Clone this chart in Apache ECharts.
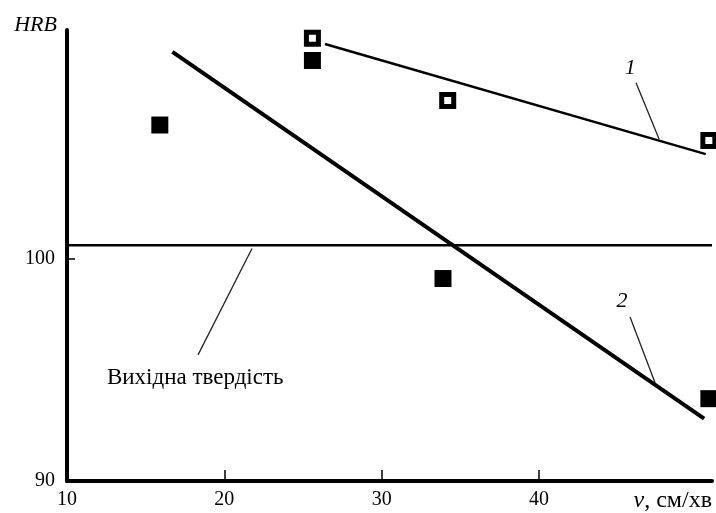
<!DOCTYPE html>
<html>
<head>
<meta charset="utf-8">
<script src="https://cdn.jsdelivr.net/npm/echarts@6/dist/echarts.min.js"></script>
<style>
html,body{margin:0;padding:0;background:#fff;}
#chart{width:716px;height:513px;}
</style>
</head>
<body>
<div id="chart"></div>
<script>
// ---- data ----
const speedTicks = [10, 20, 30, 40];
const hrbTicks = [90, 100];

// curve 1 (open squares)
const s1X = [25.6, 34.2, 50.8];
const s1Y = [109.9, 107.1, 105.3];
const fit1X = [26.4, 50.6];
const fit1Y = [109.64, 104.69];

// curve 2 (filled squares)
const s2X = [15.9, 25.6, 33.9, 50.8];
const s2Y = [106.0, 108.9, 99.1, 93.7];
const fit2X = [16.7, 50.5];
const fit2Y = [109.29, 92.8];

// initial hardness
const baseX = [10, 51];
const baseHRB = 100.6;

// annotations
const annText = ['1', '2', 'Вихідна твердість'];
const annX = [45.8, 45.28, 12.54];
const annY = [108.57, 98.08, 94.64];
const leader1 = [[46.17, 107.90], [47.64, 105.36]];
const leader2 = [[45.79, 97.37], [47.38, 94.42]];
const leader0 = [[21.76, 100.45], [18.33, 95.67]];

const zip = (xs, ys) => xs.map((x, i) => [x, ys[i]]);
const FONT = 'Liberation Serif';

const chart = echarts.init(document.getElementById('chart'));
const leaderStyle = {type: 'line', symbol: 'none', silent: true, lineStyle: {color: '#222', width: 1.3}, z: 3};

chart.setOption({
  animation: false,
  backgroundColor: '#fff',
  grid: {left: 67, right: 4, top: 30, bottom: 29, containLabel: false},
  xAxis: {
    type: 'value', min: 10, max: 51, interval: 10,
    name: '{i|v}, см/хв',
    nameLocation: 'end', nameGap: 0,
    nameTextStyle: {
      fontFamily: FONT, fontSize: 24, color: '#000', align: 'right', verticalAlign: 'top',
      padding: [8, 0, 0, 0],
      rich: {i: {fontFamily: FONT, fontSize: 24, fontStyle: 'italic', color: '#000'}}
    },
    splitLine: {show: false},
    axisLine: {show: true, onZero: false, lineStyle: {color: '#000', width: 4}},
    axisTick: {show: true, inside: true, length: 11, customValues: [20, 30, 40], lineStyle: {color: '#000', width: 1.5}},
    axisLabel: {
      customValues: speedTicks, margin: 9,
      fontFamily: FONT, fontSize: 20, color: '#000',
      formatter: v => (speedTicks.indexOf(v) >= 0 ? String(v) : '')
    }
  },
  yAxis: {
    type: 'value', min: 90, max: 110.27, interval: 10,
    name: 'HRB', nameLocation: 'end', nameGap: 5,
    nameTextStyle: {fontFamily: FONT, fontSize: 22, fontStyle: 'italic', color: '#000', align: 'right', verticalAlign: 'middle', padding: [0, 10, 0, 0]},
    splitLine: {show: false},
    axisLine: {show: true, onZero: false, lineStyle: {color: '#000', width: 4}},
    axisTick: {show: true, inside: true, length: 8, customValues: [100], lineStyle: {color: '#000', width: 1.5}},
    axisLabel: {
      customValues: hrbTicks, margin: 12,
      fontFamily: FONT, fontSize: 20, color: '#000',
      formatter: v => (hrbTicks.indexOf(v) >= 0 ? String(v) : '')
    }
  },
  series: [
    {type: 'line', name: 'base', symbol: 'none', data: baseX.map(x => [x, baseHRB]), lineStyle: {color: '#000', width: 2.5}, z: 2},
    {type: 'line', name: 'fit1', symbol: 'none', data: zip(fit1X, fit1Y), lineStyle: {color: '#000', width: 2.5}, z: 2},
    {type: 'line', name: 'fit2', symbol: 'none', data: zip(fit2X, fit2Y), lineStyle: {color: '#000', width: 4}, z: 2},
    Object.assign({}, leaderStyle, {data: leader1}),
    Object.assign({}, leaderStyle, {data: leader2}),
    Object.assign({}, leaderStyle, {data: leader0}),
    {type: 'scatter', name: 's1', clip: false, symbol: 'rect', symbolSize: 12, data: zip(s1X, s1Y),
      itemStyle: {color: '#fff', borderColor: '#000', borderWidth: 5, opacity: 1}, z: 5},
    {type: 'scatter', name: 's2', clip: false, symbol: 'rect', symbolSize: 17, data: zip(s2X, s2Y),
      itemStyle: {color: '#000', opacity: 1}, z: 5},
    {type: 'scatter', name: 'ann', clip: false, symbolSize: 0, silent: true,
      itemStyle: {opacity: 1, color: '#000'},
      data: annText.map((t, i) => ({
        value: [annX[i], annY[i]], name: t,
        label: i < 2
          ? {fontStyle: 'italic', fontSize: 22, align: 'center', verticalAlign: 'middle', color: '#000'}
          : {fontStyle: 'normal', fontSize: 23, align: 'left', verticalAlign: 'middle', color: '#000'}
      })),
      label: {
        show: true, position: 'inside', color: '#000', opacity: 1, fontFamily: FONT, fontSize: 22,
        formatter: p => p.name
      },
      z: 6}
  ]
});
</script>
</body>
</html>
